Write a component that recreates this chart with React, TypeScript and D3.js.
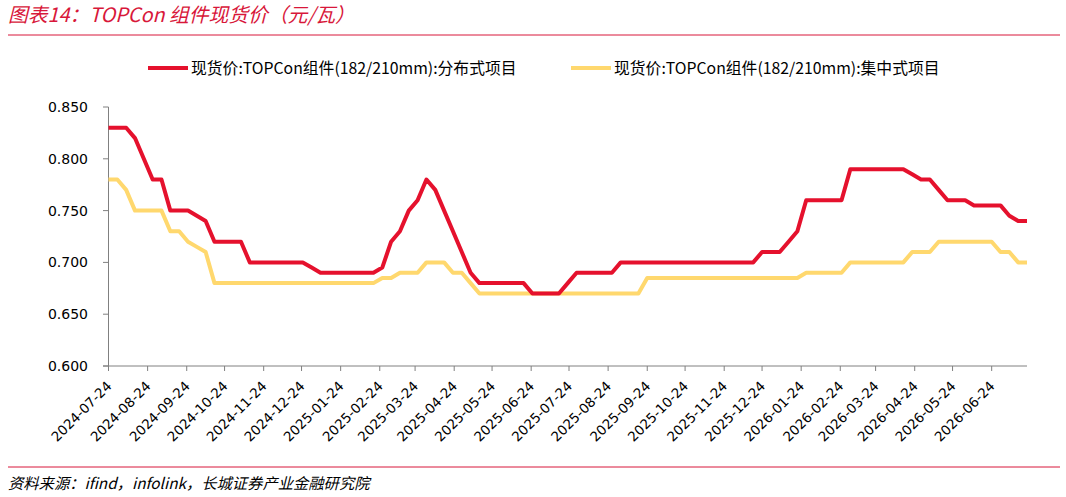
import React from "react";
import * as d3 from "d3";

const startDate = "2024-07-24";
const weekCount = 105;

const distributed = [
  0.83, 0.83, 0.83, 0.82, 0.8, 0.78, 0.78, 0.75, 0.75, 0.75,
  0.745, 0.74, 0.72, 0.72, 0.72, 0.72, 0.7, 0.7, 0.7, 0.7,
  0.7, 0.7, 0.7, 0.695, 0.69, 0.69, 0.69, 0.69, 0.69, 0.69,
  0.69, 0.695, 0.72, 0.73, 0.75, 0.76, 0.78, 0.77, 0.75, 0.73,
  0.71, 0.69, 0.68, 0.68, 0.68, 0.68, 0.68, 0.68, 0.67, 0.67,
  0.67, 0.67, 0.68, 0.69, 0.69, 0.69, 0.69, 0.69, 0.7, 0.7,
  0.7, 0.7, 0.7, 0.7, 0.7, 0.7, 0.7, 0.7, 0.7, 0.7,
  0.7, 0.7, 0.7, 0.7, 0.71, 0.71, 0.71, 0.72, 0.73, 0.76,
  0.76, 0.76, 0.76, 0.76, 0.79, 0.79, 0.79, 0.79, 0.79, 0.79,
  0.79, 0.785, 0.78, 0.78, 0.77, 0.76, 0.76, 0.76, 0.755, 0.755,
  0.755, 0.755, 0.745, 0.74, 0.74,
];

const centralized = [
  0.78, 0.78, 0.77, 0.75, 0.75, 0.75, 0.75, 0.73, 0.73, 0.72,
  0.715, 0.71, 0.68, 0.68, 0.68, 0.68, 0.68, 0.68, 0.68, 0.68,
  0.68, 0.68, 0.68, 0.68, 0.68, 0.68, 0.68, 0.68, 0.68, 0.68,
  0.68, 0.685, 0.685, 0.69, 0.69, 0.69, 0.7, 0.7, 0.7, 0.69,
  0.69, 0.68, 0.67, 0.67, 0.67, 0.67, 0.67, 0.67, 0.67, 0.67,
  0.67, 0.67, 0.67, 0.67, 0.67, 0.67, 0.67, 0.67, 0.67, 0.67,
  0.67, 0.685, 0.685, 0.685, 0.685, 0.685, 0.685, 0.685, 0.685, 0.685,
  0.685, 0.685, 0.685, 0.685, 0.685, 0.685, 0.685, 0.685, 0.685, 0.69,
  0.69, 0.69, 0.69, 0.69, 0.7, 0.7, 0.7, 0.7, 0.7, 0.7,
  0.7, 0.71, 0.71, 0.71, 0.72, 0.72, 0.72, 0.72, 0.72, 0.72,
  0.72, 0.71, 0.71, 0.7, 0.7,
];

const xTickLabels = [
  "2024-07-24", "2024-08-24", "2024-09-24", "2024-10-24", "2024-11-24", "2024-12-24",
  "2025-01-24", "2025-02-24", "2025-03-24", "2025-04-24", "2025-05-24", "2025-06-24",
  "2025-07-24", "2025-08-24", "2025-09-24", "2025-10-24", "2025-11-24", "2025-12-24",
  "2026-01-24", "2026-02-24", "2026-03-24", "2026-04-24", "2026-05-24", "2026-06-24",
];

const yTicks = [0.6, 0.65, 0.7, 0.75, 0.8, 0.85];

const seriesNames = [
  "现货价:TOPCon组件(182/210mm):分布式项目",
  "现货价:TOPCon组件(182/210mm):集中式项目",
];

const titleText = "图表14：TOPCon 组件现货价（元/瓦）";
const sourceText = "资料来源：ifind，infolink，长城证券产业金融研究院";

const RED = "#E5112D";
const YELLOW = "#FFD86E";
const TITLE_RED = "#D8173A";

export default function App() {
  const width = 1066;
  const height = 497;
  const parse = d3.utcParse("%Y-%m-%d");
  const start = parse(startDate) as Date;
  const dates = d3.range(weekCount).map((i) => d3.utcDay.offset(start, i * 7));

  const x = d3
    .scaleUtc()
    .domain([dates[0], dates[dates.length - 1]])
    .range([108.5, 1027]);
  const y = d3.scaleLinear().domain([0.6, 0.85]).range([366, 107]);

  const line = d3
    .line<number>()
    .x((_, i) => x(dates[i]))
    .y((d) => y(d));

  const axisColor = "#808080";
  const labelFont = "'DejaVu Sans', sans-serif";

  return (
    <svg
      width={width}
      height={height}
      style={{ position: "absolute", left: 0, top: 0, background: "#fff" }}
    >
      <text
        x={8}
        y={22}
        fill={TITLE_RED}
        fontSize={19.8}
        fontStyle="italic"
        fontFamily="'Noto Sans CJK SC', sans-serif"
      >
        {titleText}
      </text>
      <line x1={8} x2={1060} y1={35} y2={35} stroke={TITLE_RED} strokeWidth={1} />

      {/* legend */}
      <g fontFamily="'Noto Sans CJK SC', sans-serif" fontSize={15.8} fill="#000">
        <line x1={148} x2={188} y1={68} y2={68} stroke={RED} strokeWidth={4} />
        <text x={191} y={68} dy="0.35em">
          {seriesNames[0]}
        </text>
        <line x1={571} x2={611} y1={68} y2={68} stroke={YELLOW} strokeWidth={4} />
        <text x={614} y={68} dy="0.35em">
          {seriesNames[1]}
        </text>
      </g>

      {/* y axis */}
      <line x1={108.5} x2={108.5} y1={107} y2={366} stroke={axisColor} strokeWidth={1} />
      {yTicks.map((t) => (
        <g key={t}>
          <line x1={103} x2={108.5} y1={y(t)} y2={y(t)} stroke={axisColor} />
          <text
            x={88}
            y={y(t)}
            dy="0.35em"
            textAnchor="end"
            fontSize={14}
            fontFamily={labelFont}
            fill="#000"
          >
            {d3.format(".3f")(t)}
          </text>
        </g>
      ))}

      {/* x axis */}
      <line x1={103} x2={1027} y1={366} y2={366} stroke={axisColor} strokeWidth={1} />
      {xTickLabels.map((lab) => {
        const tx = x(parse(lab) as Date);
        return (
          <g key={lab}>
            <line x1={tx} x2={tx} y1={366} y2={371} stroke={axisColor} />
            <text
              transform={`translate(${tx + 4},${387}) rotate(-45)`}
              textAnchor="end"
              fontSize={13.5}
              fontFamily={labelFont}
              fill="#000"
            >
              {lab}
            </text>
          </g>
        );
      })}

      {/* series */}
      <path
        d={line(centralized) || ""}
        fill="none"
        stroke={YELLOW}
        strokeWidth={4}
        strokeLinejoin="round"
      />
      <path
        d={line(distributed) || ""}
        fill="none"
        stroke={RED}
        strokeWidth={4}
        strokeLinejoin="round"
      />

      <line x1={8} x2={1060} y1={467} y2={467} stroke={TITLE_RED} strokeWidth={1} />
      <text
        x={8}
        y={489}
        fill="#000"
        fontSize={15.3}
        fontStyle="italic"
        fontFamily="'Noto Sans CJK SC', sans-serif"
      >
        {sourceText}
      </text>
    </svg>
  );
}
